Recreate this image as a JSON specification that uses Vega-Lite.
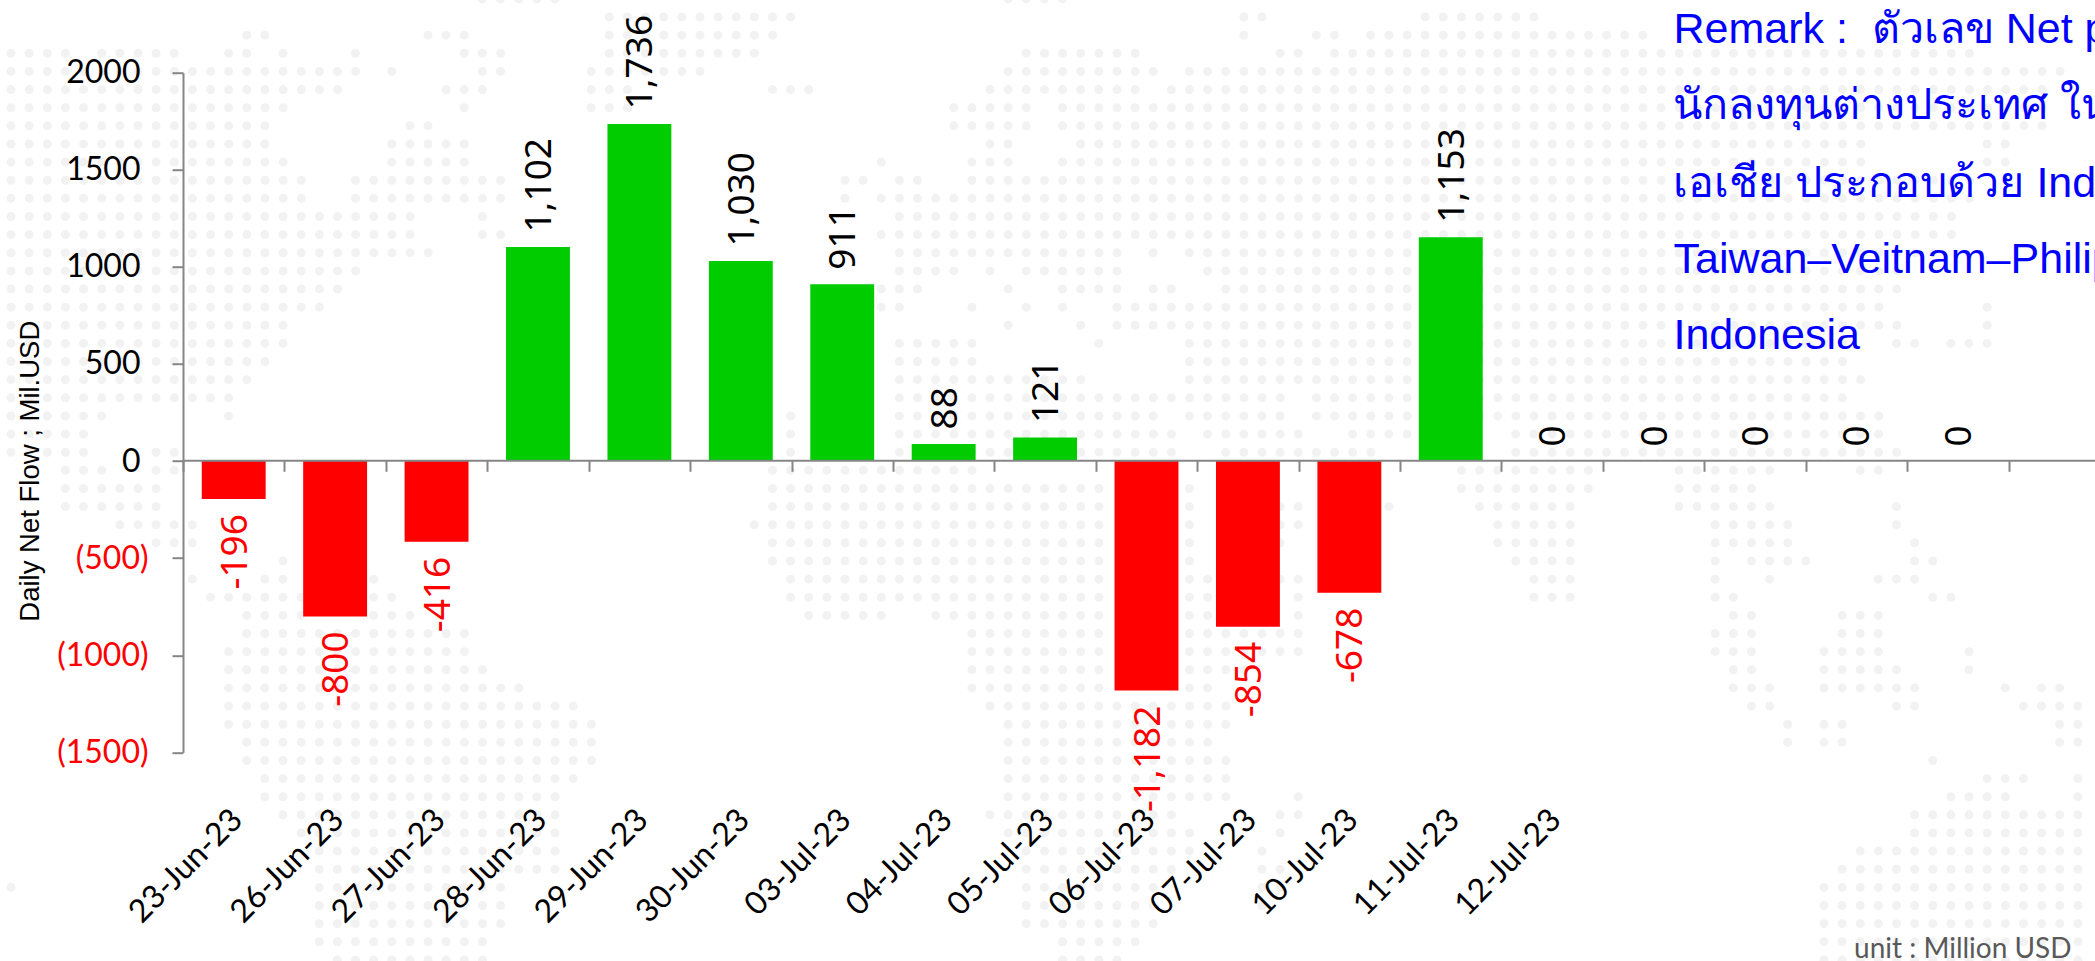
{"$schema":"https://vega.github.io/schema/vega-lite/v6.json","width":1912,"height":679.6,"autosize":{"type":"none"},"padding":{"left":183,"top":72.7,"right":0,"bottom":208.7},"background":"white","view":{"stroke":null},"config":{"axis":{"grid":false}},
"datasets":{"bars":[{"d":"23-Jun-23","v":-196,"t":"-196"},{"d":"26-Jun-23","v":-800,"t":"-800"},{"d":"27-Jun-23","v":-416,"t":"-416"},{"d":"28-Jun-23","v":1102,"t":"1,102"},{"d":"29-Jun-23","v":1736,"t":"1,736"},{"d":"30-Jun-23","v":1030,"t":"1,030"},{"d":"03-Jul-23","v":911,"t":"911"},{"d":"04-Jul-23","v":88,"t":"88"},{"d":"05-Jul-23","v":121,"t":"121"},{"d":"06-Jul-23","v":-1182,"t":"-1,182"},{"d":"07-Jul-23","v":-854,"t":"-854"},{"d":"10-Jul-23","v":-678,"t":"-678"},{"d":"11-Jul-23","v":1153,"t":"1,153"},{"d":"12-Jul-23","v":0,"t":"0"},{"d":"13-Jul-23","v":0,"t":"0"},{"d":"14-Jul-23","v":0,"t":"0"},{"d":"17-Jul-23","v":0,"t":"0"},{"d":"18-Jul-23","v":0,"t":"0"}],
"notes":[{"n":"Remark : \u00a0ตัวเลข Net p","c":91.7,"r":1.42},{"n":"นักลงทุนต่างประเทศ ใน","c":91.7,"r":5.63},{"n":"เอเชีย ประกอบด้วย India","c":91.7,"r":9.91},{"n":"Taiwan–Veitnam–Philip","c":91.7,"r":14.1},{"n":"Indonesia","c":91.7,"r":18.3}],
"unit":[{"n":"unit : Million USD","c":101.66,"r":51.9}],
"map":[{"r":-1,"a":26,"b":30.3},{"r":-1,"a":55,"b":58.3},{"r":0,"a":33,"b":43.3},{"r":0,"a":68,"b":69.3},{"r":0,"a":78,"b":84.3},
{"r":1,"a":13,"b":14.3},{"r":1,"a":23,"b":25.3},{"r":1,"a":33,"b":42.3},{"r":1,"a":68,"b":68.3},{"r":1,"a":72,"b":73.3},{"r":1,"a":75,"b":90.3},
{"r":2,"a":0,"b":3.3},{"r":2,"a":5,"b":9.3},{"r":2,"a":12,"b":13.3},{"r":2,"a":15,"b":15.3},{"r":2,"a":19,"b":19.3},{"r":2,"a":25,"b":27.3},{"r":2,"a":33,"b":41.3},{"r":2,"a":56,"b":62.3},{"r":2,"a":70,"b":71.3},{"r":2,"a":73,"b":108.3},
{"r":3,"a":0,"b":19.3},{"r":3,"a":21,"b":21.3},{"r":3,"a":26,"b":27.3},{"r":3,"a":32,"b":38.3},{"r":3,"a":55,"b":63.3},{"r":3,"a":65,"b":113.3},
{"r":4,"a":0,"b":18.3},{"r":4,"a":24,"b":26.3},{"r":4,"a":32,"b":34.3},{"r":4,"a":42,"b":44.3},{"r":4,"a":54,"b":62.3},{"r":4,"a":64,"b":112.3},
{"r":5,"a":0,"b":15.3},{"r":5,"a":25,"b":25.3},{"r":5,"a":32,"b":34.3},{"r":5,"a":52,"b":56.3},{"r":5,"a":58,"b":112.3},
{"r":6,"a":0,"b":14.3},{"r":6,"a":22,"b":23.3},{"r":6,"a":52,"b":56.3},{"r":6,"a":58,"b":112.3},
{"r":7,"a":0,"b":14.3},{"r":7,"a":21,"b":25.3},{"r":7,"a":54,"b":55.3},{"r":7,"a":59,"b":102.3},{"r":7,"a":109,"b":110.3},
{"r":8,"a":0,"b":15.3},{"r":8,"a":21,"b":25.3},{"r":8,"a":48,"b":48.3},{"r":8,"a":53,"b":55.3},{"r":8,"a":58,"b":102.3},{"r":8,"a":109,"b":110.3},
{"r":9,"a":0,"b":16.3},{"r":9,"a":19,"b":27.3},{"r":9,"a":46,"b":47.3},{"r":9,"a":49,"b":50.3},{"r":9,"a":53,"b":108.3},
{"r":10,"a":0,"b":16.3},{"r":10,"a":19,"b":27.3},{"r":10,"a":46,"b":46.3},{"r":10,"a":48,"b":108.3},
{"r":11,"a":0,"b":22.3},{"r":11,"a":26,"b":26.3},{"r":11,"a":49,"b":107.3},
{"r":12,"a":0,"b":22.3},{"r":12,"a":26,"b":27.3},{"r":12,"a":48,"b":107.3},
{"r":13,"a":0,"b":23.3},{"r":13,"a":49,"b":61.3},{"r":13,"a":63,"b":63.3},{"r":13,"a":65,"b":106.3},
{"r":14,"a":0,"b":19.3},{"r":14,"a":49,"b":52.3},{"r":14,"a":54,"b":54.3},{"r":14,"a":56,"b":61.3},{"r":14,"a":66,"b":104.3},
{"r":15,"a":0,"b":18.3},{"r":15,"a":48,"b":50.3},{"r":15,"a":55,"b":55.3},{"r":15,"a":58,"b":61.3},{"r":15,"a":63,"b":64.3},{"r":15,"a":67,"b":104.3},
{"r":16,"a":0,"b":17.3},{"r":16,"a":48,"b":49.3},{"r":16,"a":53,"b":53.3},{"r":16,"a":56,"b":56.3},{"r":16,"a":58,"b":58.3},{"r":16,"a":61,"b":103.3},{"r":16,"a":109,"b":109.3},
{"r":17,"a":0,"b":15.3},{"r":17,"a":55,"b":55.3},{"r":17,"a":59,"b":59.3},{"r":17,"a":61,"b":104.3},{"r":17,"a":109,"b":109.3},
{"r":18,"a":0,"b":15.3},{"r":18,"a":49,"b":53.3},{"r":18,"a":60,"b":60.3},{"r":18,"a":65,"b":101.3},{"r":18,"a":104,"b":105.3},{"r":18,"a":107,"b":109.3},
{"r":19,"a":0,"b":14.3},{"r":19,"a":49,"b":53.3},{"r":19,"a":65,"b":101.3},
{"r":20,"a":0,"b":13.3},{"r":20,"a":49,"b":59.3},{"r":20,"a":65,"b":102.3},
{"r":21,"a":0,"b":12.3},{"r":21,"a":49,"b":70.3},{"r":21,"a":72,"b":101.3},
{"r":22,"a":0,"b":5.3},{"r":22,"a":12,"b":12.3},{"r":22,"a":43,"b":43.3},{"r":22,"a":49,"b":63.3},{"r":22,"a":65,"b":70.3},{"r":22,"a":72,"b":103.3},
{"r":23,"a":0,"b":4.3},{"r":23,"a":43,"b":43.3},{"r":23,"a":49,"b":64.3},{"r":23,"a":66,"b":71.3},{"r":23,"a":74,"b":77.3},{"r":23,"a":83,"b":103.3},
{"r":24,"a":0,"b":4.3},{"r":24,"a":8,"b":9.3},{"r":24,"a":43,"b":43.3},{"r":24,"a":49,"b":64.3},{"r":24,"a":67,"b":75.3},{"r":24,"a":83,"b":104.3},
{"r":25,"a":3,"b":5.3},{"r":25,"a":8,"b":9.3},{"r":25,"a":42,"b":53.3},{"r":25,"a":80,"b":87.3},{"r":25,"a":92,"b":97.3},{"r":25,"a":102,"b":103.3},
{"r":26,"a":3,"b":8.3},{"r":26,"a":42,"b":60.3},{"r":26,"a":65,"b":65.3},{"r":26,"a":80,"b":87.3},{"r":26,"a":92,"b":96.3},
{"r":27,"a":3,"b":8.3},{"r":27,"a":42,"b":60.3},{"r":27,"a":65,"b":65.3},{"r":27,"a":70,"b":71.3},{"r":27,"a":76,"b":76.3},{"r":27,"a":81,"b":86.3},{"r":27,"a":92,"b":97.3},{"r":27,"a":104,"b":104.3},
{"r":28,"a":6,"b":10.3},{"r":28,"a":41,"b":60.3},{"r":28,"a":65,"b":65.3},{"r":28,"a":70,"b":71.3},{"r":28,"a":82,"b":86.3},{"r":28,"a":94,"b":98.3},{"r":28,"a":104,"b":104.3},
{"r":29,"a":8,"b":10.3},{"r":29,"a":42,"b":60.3},{"r":29,"a":65,"b":65.3},{"r":29,"a":70,"b":70.3},{"r":29,"a":82,"b":86.3},{"r":29,"a":94,"b":98.3},{"r":29,"a":105,"b":105.3},
{"r":30,"a":15,"b":15.3},{"r":30,"a":42,"b":60.3},{"r":30,"a":65,"b":65.3},{"r":30,"a":83,"b":86.3},{"r":30,"a":94,"b":94.3},{"r":30,"a":96,"b":99.3},{"r":30,"a":105,"b":106.3},
{"r":31,"a":10,"b":10.3},{"r":31,"a":14,"b":15.3},{"r":31,"a":20,"b":20.3},{"r":31,"a":43,"b":60.3},{"r":31,"a":65,"b":66.3},{"r":31,"a":70,"b":71.3},{"r":31,"a":84,"b":86.3},{"r":31,"a":94,"b":94.3},{"r":31,"a":97,"b":97.3},{"r":31,"a":103,"b":105.3},
{"r":32,"a":11,"b":16.3},{"r":32,"a":20,"b":21.3},{"r":32,"a":43,"b":60.3},{"r":32,"a":65,"b":66.3},{"r":32,"a":71,"b":71.3},{"r":32,"a":84,"b":86.3},{"r":32,"a":94,"b":95.3},{"r":32,"a":106,"b":107.3},
{"r":33,"a":13,"b":16.3},{"r":33,"a":20,"b":22.3},{"r":33,"a":44,"b":48.3},{"r":33,"a":51,"b":60.3},{"r":33,"a":65,"b":66.3},{"r":33,"a":71,"b":71.3},{"r":33,"a":95,"b":96.3},{"r":33,"a":101,"b":103.3},
{"r":34,"a":13,"b":25.3},{"r":34,"a":53,"b":60.3},{"r":34,"a":65,"b":71.3},{"r":34,"a":94,"b":96.3},{"r":34,"a":101,"b":103.3},
{"r":35,"a":12,"b":25.3},{"r":35,"a":53,"b":60.3},{"r":35,"a":65,"b":71.3},{"r":35,"a":94,"b":96.3},{"r":35,"a":100,"b":103.3},{"r":35,"a":108,"b":108.3},
{"r":36,"a":12,"b":26.3},{"r":36,"a":53,"b":60.3},{"r":36,"a":65,"b":68.3},{"r":36,"a":95,"b":96.3},{"r":36,"a":100,"b":104.3},{"r":36,"a":108,"b":108.3},
{"r":37,"a":12,"b":28.3},{"r":37,"a":53,"b":60.3},{"r":37,"a":65,"b":66.3},{"r":37,"a":95,"b":97.3},{"r":37,"a":100,"b":105.3},{"r":37,"a":110,"b":110.3},{"r":37,"a":112,"b":113.3},
{"r":38,"a":12,"b":31.3},{"r":38,"a":54,"b":67.3},{"r":38,"a":96,"b":97.3},{"r":38,"a":104,"b":105.3},{"r":38,"a":111,"b":114.3},
{"r":39,"a":12,"b":32.3},{"r":39,"a":55,"b":67.3},{"r":39,"a":98,"b":98.3},{"r":39,"a":100,"b":101.3},{"r":39,"a":113,"b":114.3},
{"r":40,"a":13,"b":32.3},{"r":40,"a":55,"b":66.3},{"r":40,"a":98,"b":98.3},{"r":40,"a":100,"b":101.3},{"r":40,"a":113,"b":114.3},
{"r":41,"a":13,"b":32.3},{"r":41,"a":55,"b":67.3},{"r":41,"a":106,"b":106.3},
{"r":42,"a":14,"b":31.3},{"r":42,"a":55,"b":67.3},{"r":42,"a":109,"b":111.3},{"r":42,"a":114,"b":114.3},
{"r":43,"a":14,"b":30.3},{"r":43,"a":55,"b":67.3},{"r":43,"a":71,"b":71.3},{"r":43,"a":107,"b":110.3},{"r":43,"a":114,"b":114.3},
{"r":44,"a":15,"b":30.3},{"r":44,"a":54,"b":64.3},{"r":44,"a":70,"b":71.3},{"r":44,"a":105,"b":114.3},
{"r":45,"a":16,"b":30.3},{"r":45,"a":55,"b":65.3},{"r":45,"a":70,"b":70.3},{"r":45,"a":105,"b":114.3},
{"r":46,"a":17,"b":30.3},{"r":46,"a":56,"b":65.3},{"r":46,"a":69,"b":69.3},{"r":46,"a":102,"b":114.3},
{"r":47,"a":17,"b":30.3},{"r":47,"a":56,"b":64.3},{"r":47,"a":69,"b":70.3},{"r":47,"a":101,"b":114.3},
{"r":48,"a":0,"b":0.3},{"r":48,"a":17,"b":27.3},{"r":48,"a":56,"b":63.3},{"r":48,"a":69,"b":70.3},{"r":48,"a":100,"b":114.3},
{"r":49,"a":17,"b":27.3},{"r":49,"a":56,"b":63.3},{"r":49,"a":69,"b":69.3},{"r":49,"a":100,"b":114.3},
{"r":50,"a":17,"b":27.3},{"r":50,"a":56,"b":63.3},{"r":50,"a":100,"b":114.3},
{"r":51,"a":17,"b":26.3},{"r":51,"a":58,"b":62.3},{"r":51,"a":100,"b":114.3},
{"r":52,"a":18,"b":26.3},{"r":52,"a":58,"b":61.3},{"r":52,"a":100,"b":114.3}]},
"resolve":{"scale":{"x":"independent","y":"independent"}},
"layer":[
{"layer":[
{"data":{"name":"map"},"mark":{"type":"rule","color":"#f2f2f2","strokeWidth":9,"strokeCap":"round","strokeDash":[0.01,18.13]},"encoding":{"x":{"field":"a","type":"quantitative","axis":null,"scale":{"domain":[9.487,114.95],"nice":false,"zero":false}},"x2":{"field":"b"},"y":{"field":"r","type":"quantitative","axis":null,"scale":{"domain":[40.55,3.07],"nice":false,"zero":false}}}},
{"data":{"name":"notes"},"mark":{"type":"text","font":"Liberation Sans, Noto Sans","fontSize":43,"color":"#0000ff","align":"left","baseline":"alphabetic"},"encoding":{"x":{"field":"c","type":"quantitative"},"y":{"field":"r","type":"quantitative"},"text":{"field":"n"}}},
{"data":{"name":"unit"},"mark":{"type":"text","font":"Lato","fontSize":28,"color":"#595959","align":"left","baseline":"alphabetic"},"encoding":{"x":{"field":"c","type":"quantitative"},"y":{"field":"r","type":"quantitative"},"text":{"field":"n"}}}
]},
{"data":{"name":"bars"},
"encoding":{"x":{"field":"d","type":"nominal","sort":null,"title":null,"scale":{"type":"band","domain":["23-Jun-23","26-Jun-23","27-Jun-23","28-Jun-23","29-Jun-23","30-Jun-23","03-Jul-23","04-Jul-23","05-Jul-23","06-Jul-23","07-Jul-23","10-Jul-23","11-Jul-23","12-Jul-23","13-Jul-23","14-Jul-23","17-Jul-23","18-Jul-23"],"paddingInner":0,"paddingOuter":0.426,"align":0},"axis":{"orient":"bottom","zindex":1,"tickBand":"extent","offset":-292,"labelAngle":-45,"labelAlign":"right","labelBaseline":"middle","labelPadding":343,"labelOffset":3,"labelFont":"Lato","labelFontSize":32,"labelColor":"black","domainColor":"#868686","domainWidth":2,"tickColor":"#868686","tickWidth":2,"tickSize":11,"labelOverlap":false,"labelExpr":"indexof(['13-Jul-23','14-Jul-23','17-Jul-23','18-Jul-23'],datum.value)>=0?'':datum.label"}},
"y":{"field":"v","type":"quantitative","scale":{"domain":[-1500,2000],"nice":false,"zero":false},"axis":{"orient":"left","zindex":1,"values":[-1500,-1000,-500,0,500,1000,1500,2000],"title":"Daily Net Flow ; Mil.USD","titleFont":"Liberation Sans","titleFontSize":27.5,"titleFontWeight":"normal","titleColor":"black","titleX":-153,"titleY":398,"titleAngle":-90,"titleBaseline":"middle","titleAlign":"center","labelFont":"Lato","labelFontSize":32,"labelPadding":{"condition":{"test":"datum.value<0","value":24},"value":32},"labelColor":{"condition":{"test":"datum.value<0","value":"#ff0000"},"value":"black"},"labelExpr":"datum.value<0?'('+abs(datum.value)+')':''+datum.value","domainColor":"#868686","domainWidth":2,"tickColor":"#868686","tickWidth":2,"tickSize":11}}},
"layer":[
{"mark":{"type":"bar","width":{"band":0.63}},"encoding":{"color":{"condition":{"test":"datum.v<0","value":"#ff0000"},"value":"#00cc00"}}},
{"transform":[{"filter":"datum.v>=0"}],"mark":{"type":"text","font":"Noto Sans","fontSize":37,"angle":270,"align":"left","baseline":"middle","dx":14.5,"dy":2,"color":"black"},"encoding":{"text":{"field":"t"}}},
{"transform":[{"filter":"datum.v<0"}],"mark":{"type":"text","font":"Noto Sans","fontSize":37,"angle":270,"align":"right","baseline":"middle","dx":-15,"dy":2,"color":"#ff0000"},"encoding":{"text":{"field":"t"}}}
]}
]}
